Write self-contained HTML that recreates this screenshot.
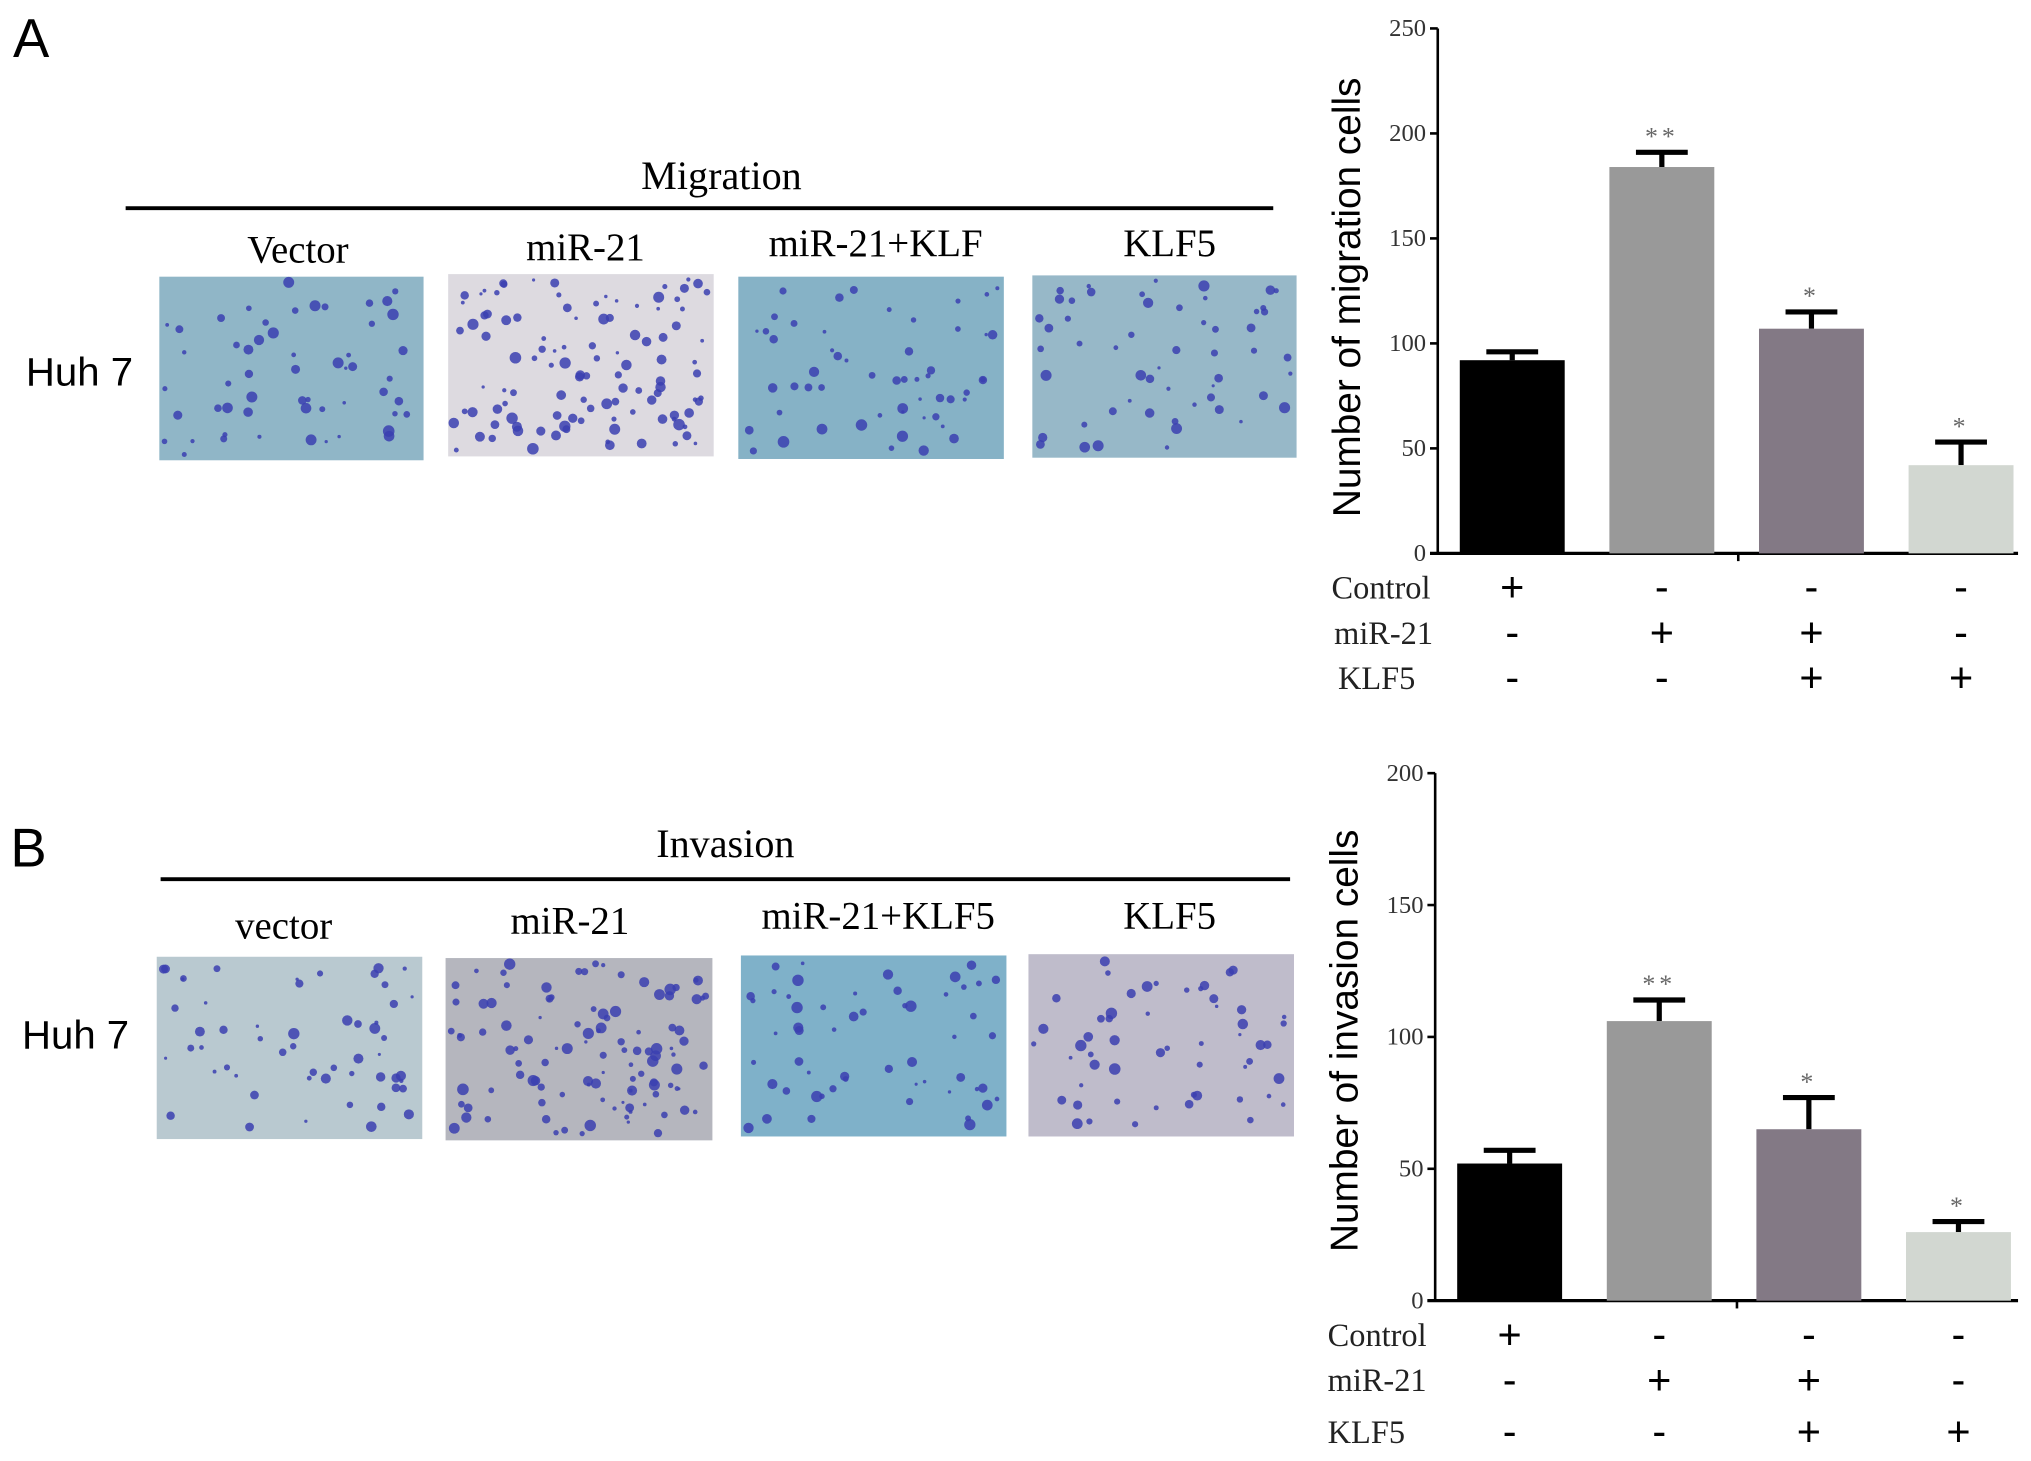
<!DOCTYPE html>
<html><head><meta charset="utf-8"><style>
html,body{margin:0;padding:0;background:#fff;}
svg{display:block;}
.serif{font-family:"Liberation Serif",serif;}
.sans{font-family:"Liberation Sans",sans-serif;}
</style></head><body>
<svg id="fig" width="2031" height="1461" viewBox="0 0 1568 1130" preserveAspectRatio="none" xmlns="http://www.w3.org/2000/svg">
<rect width="1568" height="1130" fill="#fff"/>
<g id="left"></g>
<g id="charts"></g>
</svg>
<script>
// ---- chart data ----
const categories = ["Control", "miR-21", "miR-21+KLF5", "KLF5"];
const migrationValues = [92, 184, 107, 42];
const migrationErrors = [4, 7, 8, 11];
const migrationStars = ["", "**", "*", "*"];
const invasionValues = [52, 106, 65, 26];
const invasionErrors = [5, 8, 12, 4];
const invasionStars = ["", "**", "*", "*"];
const migrationTicks = [0, 50, 100, 150, 200, 250];
const invasionTicks = [0, 50, 100, 150, 200];
const controlRow = ["+", "-", "-", "-"];
const mirRow = ["-", "+", "+", "-"];
const klfRow = ["-", "-", "+", "+"];

const NS = "http://www.w3.org/2000/svg";
function mk(parent, tag, attrs, text){
  const e = document.createElementNS(NS, tag);
  for (const k in attrs) e.setAttribute(k, attrs[k]);
  if (text !== undefined) e.textContent = text;
  parent.appendChild(e);
  return e;
}
const barColors = ["#000000", "#999999", "#837985", "#d2d7d1"];

function chart(g, cfg){
  const {x0, x1, yTop, yBot, max, ticks, values, errors, stars, title, titleY, rowY, labX} = cfg;
  const y = v => yBot - (v / max) * (yBot - yTop);
  const slot = 115.5;
  const bx = i => x0 + 17 + i * slot;
  const bw = 81;
  let a = mk(g, "line", {x1:x0, y1:yTop, x2:x0, y2:yBot, stroke:"#000", "stroke-width":2});
  
  
  a = mk(g, "line", {x1:x0-6, y1:yBot, x2:x1, y2:yBot, stroke:"#000", "stroke-width":2.5});
  
  
  mk(g, "line", {x1:(x0+x1)/2+8, y1:yBot, x2:(x0+x1)/2+8, y2:yBot+6, stroke:"#000", "stroke-width":2});
  ticks.forEach(t => {
    mk(g, "line", {x1:x0-6, y1:y(t), x2:x0, y2:y(t), stroke:"#000", "stroke-width":2});
    const tl = mk(g, "text", {x:x0-9, y:y(t)+6, "text-anchor":"end", class:"serif", "font-size":19, fill:"#333"}, String(t));
    
    
  });
  const tt = mk(g, "text", {x:0, y:0, transform:`translate(${x0-60},${titleY}) rotate(-90)`, "text-anchor":"middle", class:"sans", "font-size":30, fill:"#000"}, title);
  
  
  values.forEach((v, i) => {
    const cx = bx(i) + bw/2;
    const eb = mk(g, "path", {d:`M${cx},${y(v)} V${y(v+errors[i])} M${cx-20},${y(v+errors[i])} H${cx+20}`, stroke:"#000", "stroke-width":4, fill:"none"});
    
    
    const b = mk(g, "rect", {x:bx(i), y:y(v), width:bw, height:yBot-y(v), fill:barColors[i]});
    
    
    if (stars[i]) {
      const s = mk(g, "text", {x:cx, y:y(v+errors[i])-6, "text-anchor":"middle", class:"serif", "font-size":20, fill:"#666", "letter-spacing":"3"}, stars[i]);
      
      
    }
  });
  const rows = [["Control", controlRow], ["miR-21", mirRow], ["KLF5", klfRow]];
  rows.forEach((r, ri) => {
    const ry = rowY[ri];
    const rl = mk(g, "text", {x:labX[ri], y:ry+8, class:"serif", "font-size":25, fill:"#222"}, r[0]);
    
    
    r[1].forEach((sym, i) => {
      const cx = bx(i) + bw/2;
      const m = mk(g, "text", {x:cx, y:ry+10, "text-anchor":"middle", class:"sans", "font-size":32, fill:"#000"}, sym);
      
      
    });
  });
}
const charts = document.getElementById("charts");
chart(charts, {x0:1110, x1:1558, yTop:22, yBot:428, max:250, ticks:migrationTicks, values:migrationValues, errors:migrationErrors, stars:migrationStars, title:"Number of migration cells", titleY:230, rowY:[455,490,525], labX:[1028,1030,1033]});
chart(charts, {x0:1108, x1:1558, yTop:598, yBot:1006, max:200, ticks:invasionTicks, values:invasionValues, errors:invasionErrors, stars:invasionStars, title:"Number of invasion cells", titleY:805, rowY:[1033,1068,1108], labX:[1025,1025,1025]});

// ---- left: micrograph panels ----
const left = document.getElementById("left");
function txt(x, y, s, cls, size, name, anchor){
  const t = mk(left, "text", {x, y, class:cls, "font-size":size, fill:"#000", "text-anchor":anchor||"start"}, s);
  
  
}
txt(10, 44, "A", "sans", 42, "panel-label-a");
txt(8, 670, "B", "sans", 42, "panel-label-b");
txt(557, 146, "Migration", "serif", 31, "migration-heading", "middle");
txt(560, 663, "Invasion", "serif", 31, "invasion-heading", "middle");
mk(left, "line", {x1:97, y1:161, x2:983, y2:161, stroke:"#000", "stroke-width":3});
mk(left, "line", {x1:124, y1:680, x2:996, y2:680, stroke:"#000", "stroke-width":3});
txt(20, 298, "Huh 7", "sans", 31, "cell-line-label-a");
txt(17, 811, "Huh 7", "sans", 31, "cell-line-label-b");
const heads = [
  [230,203,"Vector"],[452,201,"miR-21"],[676,198,"miR-21+KLF"],[903,198,"KLF5"],
  [219,726,"vector"],[440,722,"miR-21"],[678,718,"miR-21+KLF5"],[903,718,"KLF5"]];
heads.forEach(h => txt(h[0], h[1], h[2], "serif", 30, "image-label", "middle"));
const imgs = [
  [123,214,204,142,"#90b6c7"],[346,212,205,141,"#dddae0"],[570,214,205,141,"#86b2c6"],[797,213,204,141,"#97b8c8"],
  [121,740,205,141,"#b9c9d0"],[344,741,206,141,"#b5b6be"],[572,739,205,140,"#7fb1c9"],[794,738,205,141,"#bfbccb"]];
let seed = 7;
function rnd(){ seed = (seed * 16807) % 2147483647; return seed / 2147483647; }
imgs.forEach((im, k) => {
  const r = mk(left, "rect", {x:im[0], y:im[1], width:im[2], height:im[3], fill:im[4]});
  
  
  const n = (k===1||k===5) ? 110 : 55;
  for (let i = 0; i < n; i++) {
    mk(left, "circle", {cx:im[0]+4+rnd()*(im[2]-8), cy:im[1]+4+rnd()*(im[3]-8), r:1.2+rnd()*3.3, fill:"#3b3fb0", opacity:0.85});
  }
});
</script>
</body></html>
